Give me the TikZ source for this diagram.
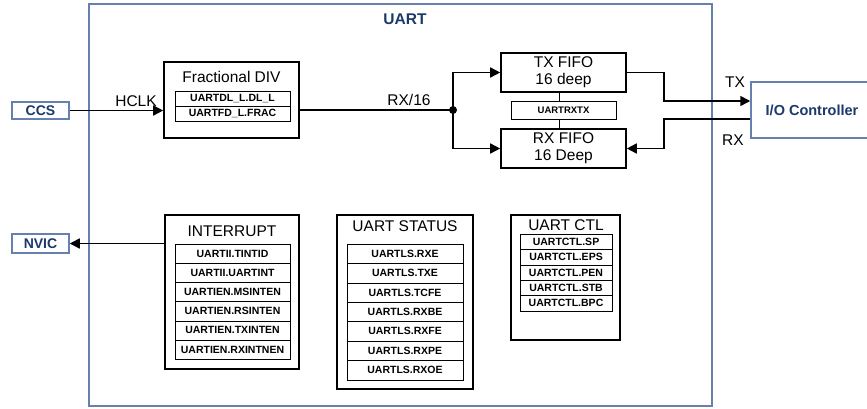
\documentclass[tikz,border=0pt]{standalone}
\usepackage{fontspec}
\setmainfont{Liberation Sans}
\usetikzlibrary{arrows.meta}
\definecolor{frame}{HTML}{6680B0}
\definecolor{navy}{HTML}{1B3A6B}
\tikzset{
  blk/.style={draw, line width=1.6pt, fill=white, inner sep=0pt, anchor=center},
  regrow/.style={draw, line width=0.6pt, fill=white, inner sep=0pt, font=\fontsize{10.5}{12}\selectfont\bfseries},
  ext/.style={draw=frame, line width=1.5pt, fill=white, inner sep=0pt, text=navy, font=\fontsize{14}{16}\selectfont\bfseries},
  big/.style={font=\fontsize{15.5}{18}\selectfont, inner sep=0pt},
  conn/.style={line width=1.6pt, -{Triangle[length=10pt,width=10pt]}},
  plain/.style={line width=1.6pt},
  thin/.style={line width=0.6pt}
}
\begin{document}
\begin{tikzpicture}[x=1pt,y=-1pt]
\useasboundingbox (0,0) rectangle (867,408);
% UART frame
\node[draw=frame, line width=1.5pt, minimum width=623pt, minimum height=402pt, inner sep=0pt] (uart) at (400.5,205) {};
\node[text=navy, font=\fontsize{15.5}{18}\selectfont\bfseries, inner sep=0pt] (uarttitle) at (405,19) {UART};
% external blocks
\node[ext, minimum width=57pt, minimum height=17pt] (ccs) at (40.5,110.5) {CCS};
\node[ext, minimum width=57pt, minimum height=19pt] (nvic) at (40.5,243.5) {NVIC};
\node[draw=frame, line width=1.5pt, fill=white, minimum width=124pt, minimum height=56pt, inner sep=0pt] (io) at (813,110) {};
\node[text=navy, font=\fontsize{14.5}{16}\selectfont\bfseries, inner sep=0pt] (iotext) at (812,110) {I/O Controller};
% Fractional DIV
\node[blk, minimum width=135pt, minimum height=76pt] (frac) at (231.5,100) {};
\node[big] (fractitle) at (231.5,77) {Fractional DIV};
\node[regrow, minimum width=115pt, minimum height=15pt] (fr1) at (232.5,98.5) {UARTDL\_L.DL\_L};
\node[regrow, minimum width=115pt, minimum height=15pt] (fr2) at (232.5,113.5) {UARTFD\_L.FRAC};
% FIFOs
\node[blk, minimum width=125pt, minimum height=39pt, align=center, font=\fontsize{15.5}{17}\selectfont] (txf) at (563.5,72.5) {TX FIFO\\16 deep};
\node[blk, minimum width=125pt, minimum height=39pt, align=center, font=\fontsize{15.5}{17}\selectfont] (rxf) at (563.5,148.5) {RX FIFO\\16 Deep};
\node[draw, line width=0.6pt, fill=white, inner sep=0pt, minimum width=105pt, minimum height=18pt, font=\fontsize{9.5}{11}\selectfont\bfseries] (rxtx) at (563.5,110) {UARTRXTX};
\draw[thin] (txf.south -| 559,0) -- (rxtx.north -| 559,0);
\draw[thin] (rxtx.south -| 559,0) -- (rxf.north -| 559,0);
% connectors top
\coordinate (dot) at (453,110);
\draw[conn] (ccs.east) -- (frac.west |- ccs.east);
\node[big] (hclk) at (136,101) {HCLK};
\draw[plain] (frac.east |- dot) -- (dot);
\node[big] (rx16) at (409,100) {RX/16};
\fill (dot) circle (4pt);
\draw[conn] (dot) |- (txf.west);
\draw[conn] (dot) |- (rxf.west);
\draw[conn] (txf.east) -- (664,72.5) -- (664,101) -- (io.west |- 0,101);
\draw[conn] (io.west |- 0,119) -- (664,119) -- (664,148.5) -- (rxf.east);
\node[big] (txl) at (735,82) {TX};
\node[big] (rxl) at (733,140) {RX};
% INTERRUPT
\node[blk, minimum width=134pt, minimum height=154pt] (intr) at (232,292) {};
\node[big] (inttitle) at (232,231) {INTERRUPT};
\foreach \t [count=\i] in {UARTII.TINTID,UARTII.UARTINT,UARTIEN.MSINTEN,UARTIEN.RSINTEN,UARTIEN.TXINTEN,UARTIEN.RXINTNEN}
  \node[regrow, minimum width=115pt, minimum height=19.2pt] (ir\i) at (232.5,{244+9.6+(\i-1)*19.2}) {\t};
\draw[conn] (intr.west |- nvic.east) -- (nvic.east);
% UART STATUS
\node[blk, minimum width=136pt, minimum height=174pt] (stat) at (405,302) {};
\node[big] (stattitle) at (405,226) {UART STATUS};
\foreach \t [count=\i] in {UARTLS.RXE,UARTLS.TXE,UARTLS.TCFE,UARTLS.RXBE,UARTLS.RXFE,UARTLS.RXPE,UARTLS.RXOE}
  \node[regrow, minimum width=116pt, minimum height=19.4pt] (sr\i) at (405,{244+9.7+(\i-1)*19.4}) {\t};
% UART CTL
\node[blk, minimum width=109pt, minimum height=125pt] (ctl) at (565.5,277.5) {};
\node[big] (ctltitle) at (566,225) {UART CTL};
\foreach \t [count=\i] in {UARTCTL.SP,UARTCTL.EPS,UARTCTL.PEN,UARTCTL.STB,UARTCTL.BPC}
  \node[regrow, minimum width=92pt, minimum height=15.4pt] (cr\i) at (566,{234+7.7+(\i-1)*15.4}) {\t};
\end{tikzpicture}
\end{document}
